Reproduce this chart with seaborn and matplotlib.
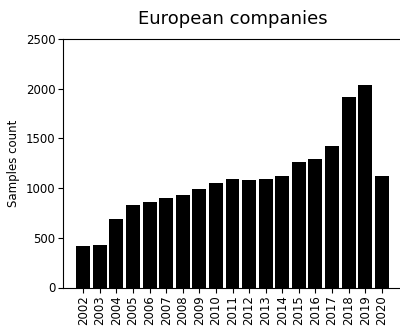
import matplotlib
matplotlib.use("Agg")
import matplotlib.pyplot as plt
import seaborn as sns
import pandas as pd

years = [str(y) for y in range(2002, 2021)]
counts = [415, 425, 690, 830, 860, 900, 930, 990, 1050, 1090,
          1080, 1090, 1120, 1262, 1292, 1424, 1916, 2037, 1122]

sns.set_style("ticks")
plt.rcParams["font.family"] = ["DejaVu Sans"]
plt.rcParams.update({"text.color": "black", "axes.labelcolor": "black",
                     "xtick.color": "black", "ytick.color": "black"})

df = pd.DataFrame({"year": years, "count": counts})

fig = plt.figure(figsize=(4.0, 3.26), dpi=100)
ax = fig.add_axes([63 / 400, 1 - 287.5 / 326, (402 - 63) / 400, (287.5 - 39) / 326])

sns.barplot(data=df, x="year", y="count", color="black", width=0.84,
            saturation=1, linewidth=0, ax=ax)

ax.set_xlim(-1.22, 19.22)
ax.set_ylim(0, 2500)
ax.set_yticks([0, 500, 1000, 1500, 2000, 2500])
ax.set_xlabel("")
ax.set_ylabel("Samples count", fontsize=8.5, labelpad=4, color="black")
ax.set_title("European companies", fontsize=13, pad=11, color="black")
ax.tick_params(axis="x", rotation=90, labelsize=8.5, length=3.5, pad=2,
               colors="black")
ax.tick_params(axis="y", labelsize=8.5, length=3.5, pad=2, colors="black")
for s in ax.spines.values():
    s.set_color("black")
    s.set_linewidth(0.8)
ax.spines["right"].set_visible(False)

fig.savefig("out.png", dpi=100)
